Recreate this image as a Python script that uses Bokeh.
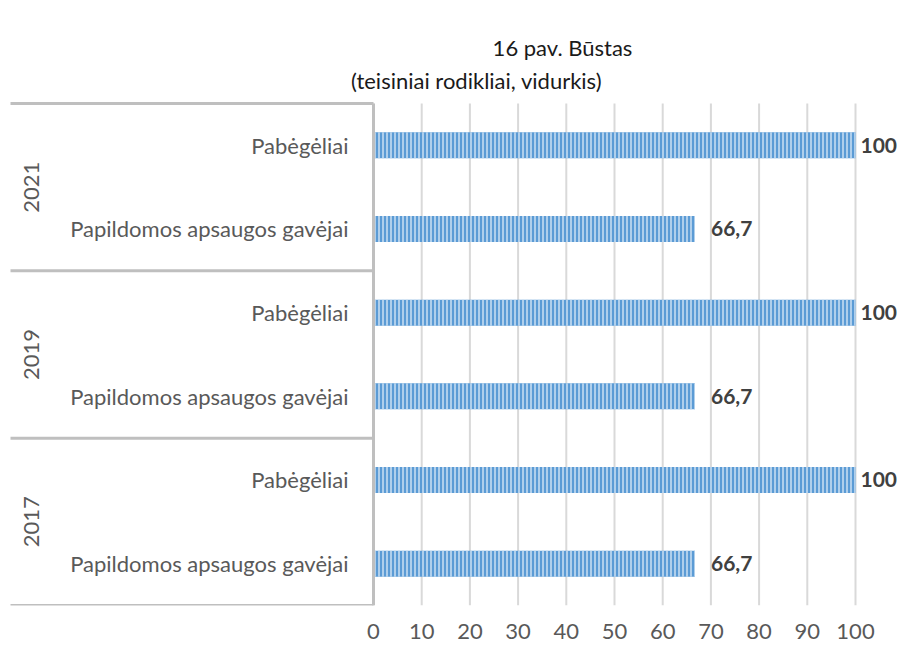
import math
from bokeh.plotting import figure
from bokeh.models import Range1d, FixedTicker, ColumnDataSource
from bokeh.core.properties import value
from bokeh.embed import file_html
from bokeh.resources import INLINE

# ---------------- data ----------------
title_lines = ["16 pav. Būstas", "(teisiniai rodikliai, vidurkis)"]
years = ["2021", "2019", "2017"]                      # top to bottom
categories = ["Pabėgėliai", "Papildomos apsaugos gavėjai"]
values_2021 = [100, 66.7]
values_2019 = [100, 66.7]
values_2017 = [100, 66.7]
value_labels_2021 = ["100", "66,7"]
value_labels_2019 = ["100", "66,7"]
value_labels_2017 = ["100", "66,7"]
x_ticks = [0, 10, 20, 30, 40, 50, 60, 70, 80, 90, 100]

# ---------------- layout ----------------
W, H = 897, 645
BOTTOM = 40            # room for x tick labels
FH = H - BOTTOM        # frame height (px)
X0 = 373               # canvas px of value 0
PX = 4.82              # px per unit
ROW = 83.67            # px per category row
FONT = "Lato"
GREY = "#595959"

series_vals = [values_2021, values_2019, values_2017]
series_labs = [value_labels_2021, value_labels_2019, value_labels_2017]
n_rows = len(years) * len(categories)

ys, vals, labs, cats, offs = [], [], [], [], []
for gi, yr in enumerate(years):
    for ci, cat in enumerate(categories):
        i = gi * len(categories) + ci
        ys.append(n_rows - 0.5 - i)
        vals.append(series_vals[gi][ci])
        labs.append(series_labs[gi][ci])
        cats.append(cat)
        # Excel-like label box: shorter bars get a wider gap
        offs.append(5 if series_vals[gi][ci] >= 100 else 16)

src = ColumnDataSource(dict(y=ys, v=vals, lab=labs, cat=cats, off=offs))

x_min = -X0 / PX
x_max = (W - X0) / PX
y_max = FH / ROW

p = figure(width=W, height=H, output_backend="svg", toolbar_location=None,
           x_range=Range1d(x_min, x_max), y_range=Range1d(0, y_max),
           y_axis_location=None, min_border_left=0, min_border_right=0,
           min_border_top=0, min_border_bottom=BOTTOM)
p.outline_line_color = None
p.grid.visible = False

# x axis
p.xaxis.ticker = FixedTicker(ticks=x_ticks)
p.xaxis.axis_line_color = None
p.xaxis.major_tick_line_color = None
p.xaxis.minor_tick_line_color = None
p.xaxis.major_label_text_font = FONT
p.xaxis.major_label_text_font_size = "22px"
p.xaxis.major_label_text_color = GREY
p.xaxis.major_label_standoff = 12

# vertical gridlines
p.segment(x0=x_ticks, x1=x_ticks, y0=[0] * len(x_ticks), y1=[n_rows] * len(x_ticks),
          line_color="#D9D9D9", line_width=2)

# bars
p.hbar(y="y", left=0, right="v", height=26 / ROW, source=src,
       fill_color="#5B9BD5", line_color=None,
       hatch_pattern="|", hatch_color="#C5DCF2", hatch_scale=4, hatch_weight=1.6)

# value labels
p.text(x="v", y="y", text="lab", source=src, x_offset="off",
       text_font=value(FONT), text_font_style="bold", text_font_size="21px",
       text_color="#404040", text_align="left", text_baseline="middle")

# category axis (multi-level)
left_edge = (10 - X0) / PX
p.segment(x0=[0], x1=[0], y0=[0], y1=[n_rows], line_color="#BFBFBF", line_width=3)
seps = [k * len(categories) for k in range(len(years) + 1)]
p.segment(x0=[left_edge] * len(seps), x1=[0] * len(seps), y0=seps, y1=seps,
          line_color="#BFBFBF", line_width=3)

p.text(x=(348 - X0) / PX, y="y", text="cat", source=src,
       text_font=value(FONT), text_font_size="22px", text_color=GREY,
       text_align="right", text_baseline="middle")

year_y = [n_rows - len(categories) * (gi + 0.5) for gi in range(len(years))]
p.text(x=[(31 - X0) / PX] * len(years), y=year_y, text=years, angle=math.pi / 2,
       text_font=value(FONT), text_font_size="22px", text_color=GREY,
       text_align="center", text_baseline="middle")

# title
title_cx = [(562 - X0) / PX, (476 - X0) / PX]
title_cy = [(FH - 47) / ROW, (FH - 80) / ROW]
p.text(x=title_cx, y=title_cy, text=title_lines,
       text_font=value(FONT), text_font_size="22px", text_color="#1a1a1a",
       text_align="center", text_baseline="middle")

open("out.html", "w").write(file_html(p, INLINE))
